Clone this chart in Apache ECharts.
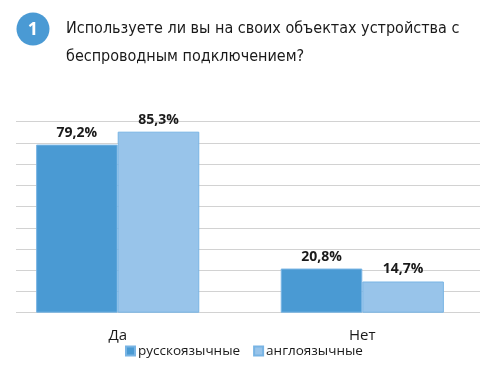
<!DOCTYPE html>
<html><head><meta charset="utf-8">
<script src="https://cdn.jsdelivr.net/npm/echarts@6/dist/echarts.min.js"></script>
<style>html,body{margin:0;padding:0;background:#fff;overflow:hidden}#c{width:505px;height:379px;margin-left:-5px}</style>
</head><body><div id="c"></div>
<script>
const categories = ['Да', 'Нет'];
const seriesNames = ['русскоязычные', 'англоязычные'];
const russianValues = [79.2, 20.8];
const englishValues = [85.3, 14.7];
const titleLines = ['Используете ли вы на своих объектах устройства с', 'беспроводным подключением?'];
const badgeText = '1';
const axisMax = 90;
const axisInterval = 10;

const chart = echarts.init(document.getElementById('c'), null, {renderer: 'canvas'});
const fmt = p => p.value.toFixed(1).replace('.', ',') + '%';
const labelStyle = {show: true, position: 'top', distance: 5, formatter: fmt,
  fontFamily: 'Open Sans', fontWeight: 'bold', fontSize: 14, color: '#1a1a1a'};

chart.setOption({
  animation: false,
  backgroundColor: '#fff',
  title: {
    text: titleLines.join('\n'), left: 71, top: 15, padding: 0,
    textStyle: {fontFamily: '"DejaVu Sans Condensed", Roboto', fontWeight: 'normal', fontSize: 16, lineHeight: 28, color: '#1a1a1a'}
  },
  graphic: [{
    type: 'group', left: 21.5, top: 12.5,
    children: [
      {type: 'circle', shape: {cx: 16.5, cy: 16.5, r: 16.5}, style: {fill: '#4a9ad4'}},
      {type: 'text', x: 16.5, y: 17, style: {text: badgeText, fill: '#fff', font: 'bold 18px "Open Sans"', align: 'center', verticalAlign: 'middle'}}
    ]
  }],
  legend: {
    data: seriesNames, left: 130, top: 344, padding: 0, icon: 'rect', itemWidth: 9, itemHeight: 9, itemGap: 13,
    textStyle: {fontFamily: 'Open Sans', fontSize: 13.5, color: '#1a1a1a', padding: [0, 0, 0, -2]}
  },
  grid: [
    {left: 0.4, right: 15.4, top: 121.7, bottom: 66.3},
    {left: 21, right: 20, top: 121.7, bottom: 66.3}
  ],
  xAxis: [
    {type: 'category', gridIndex: 0, data: categories, axisLine: {show: false}, axisTick: {show: false},
     axisLabel: {margin: 16, fontFamily: 'Open Sans', fontSize: 15, color: '#1a1a1a'}},
    {type: 'category', gridIndex: 1, data: categories, show: false}
  ],
  yAxis: [
    {type: 'value', gridIndex: 0, min: 0, max: axisMax, interval: axisInterval, show: false, splitLine: {show: false}},
    {type: 'value', gridIndex: 1, min: 0, max: axisMax, interval: axisInterval,
     axisLabel: {show: false}, axisLine: {show: false}, axisTick: {show: false},
     splitLine: {show: true, lineStyle: {color: '#d2d2d2', width: 1.2}}}
  ],
  series: [
    {name: seriesNames[0], type: 'bar', xAxisIndex: 0, yAxisIndex: 0, data: russianValues,
     barGap: '0%', barCategoryGap: '33.3%',
     itemStyle: {color: '#4a9ad3', borderColor: '#78b4e4', borderWidth: 1}, label: labelStyle},
    {name: seriesNames[1], type: 'bar', xAxisIndex: 0, yAxisIndex: 0, data: englishValues,
     barGap: '0%', barCategoryGap: '33.3%',
     itemStyle: {color: '#98c4ea', borderColor: '#78b4e4', borderWidth: 1}, label: labelStyle}
  ]
});
</script></body></html>
